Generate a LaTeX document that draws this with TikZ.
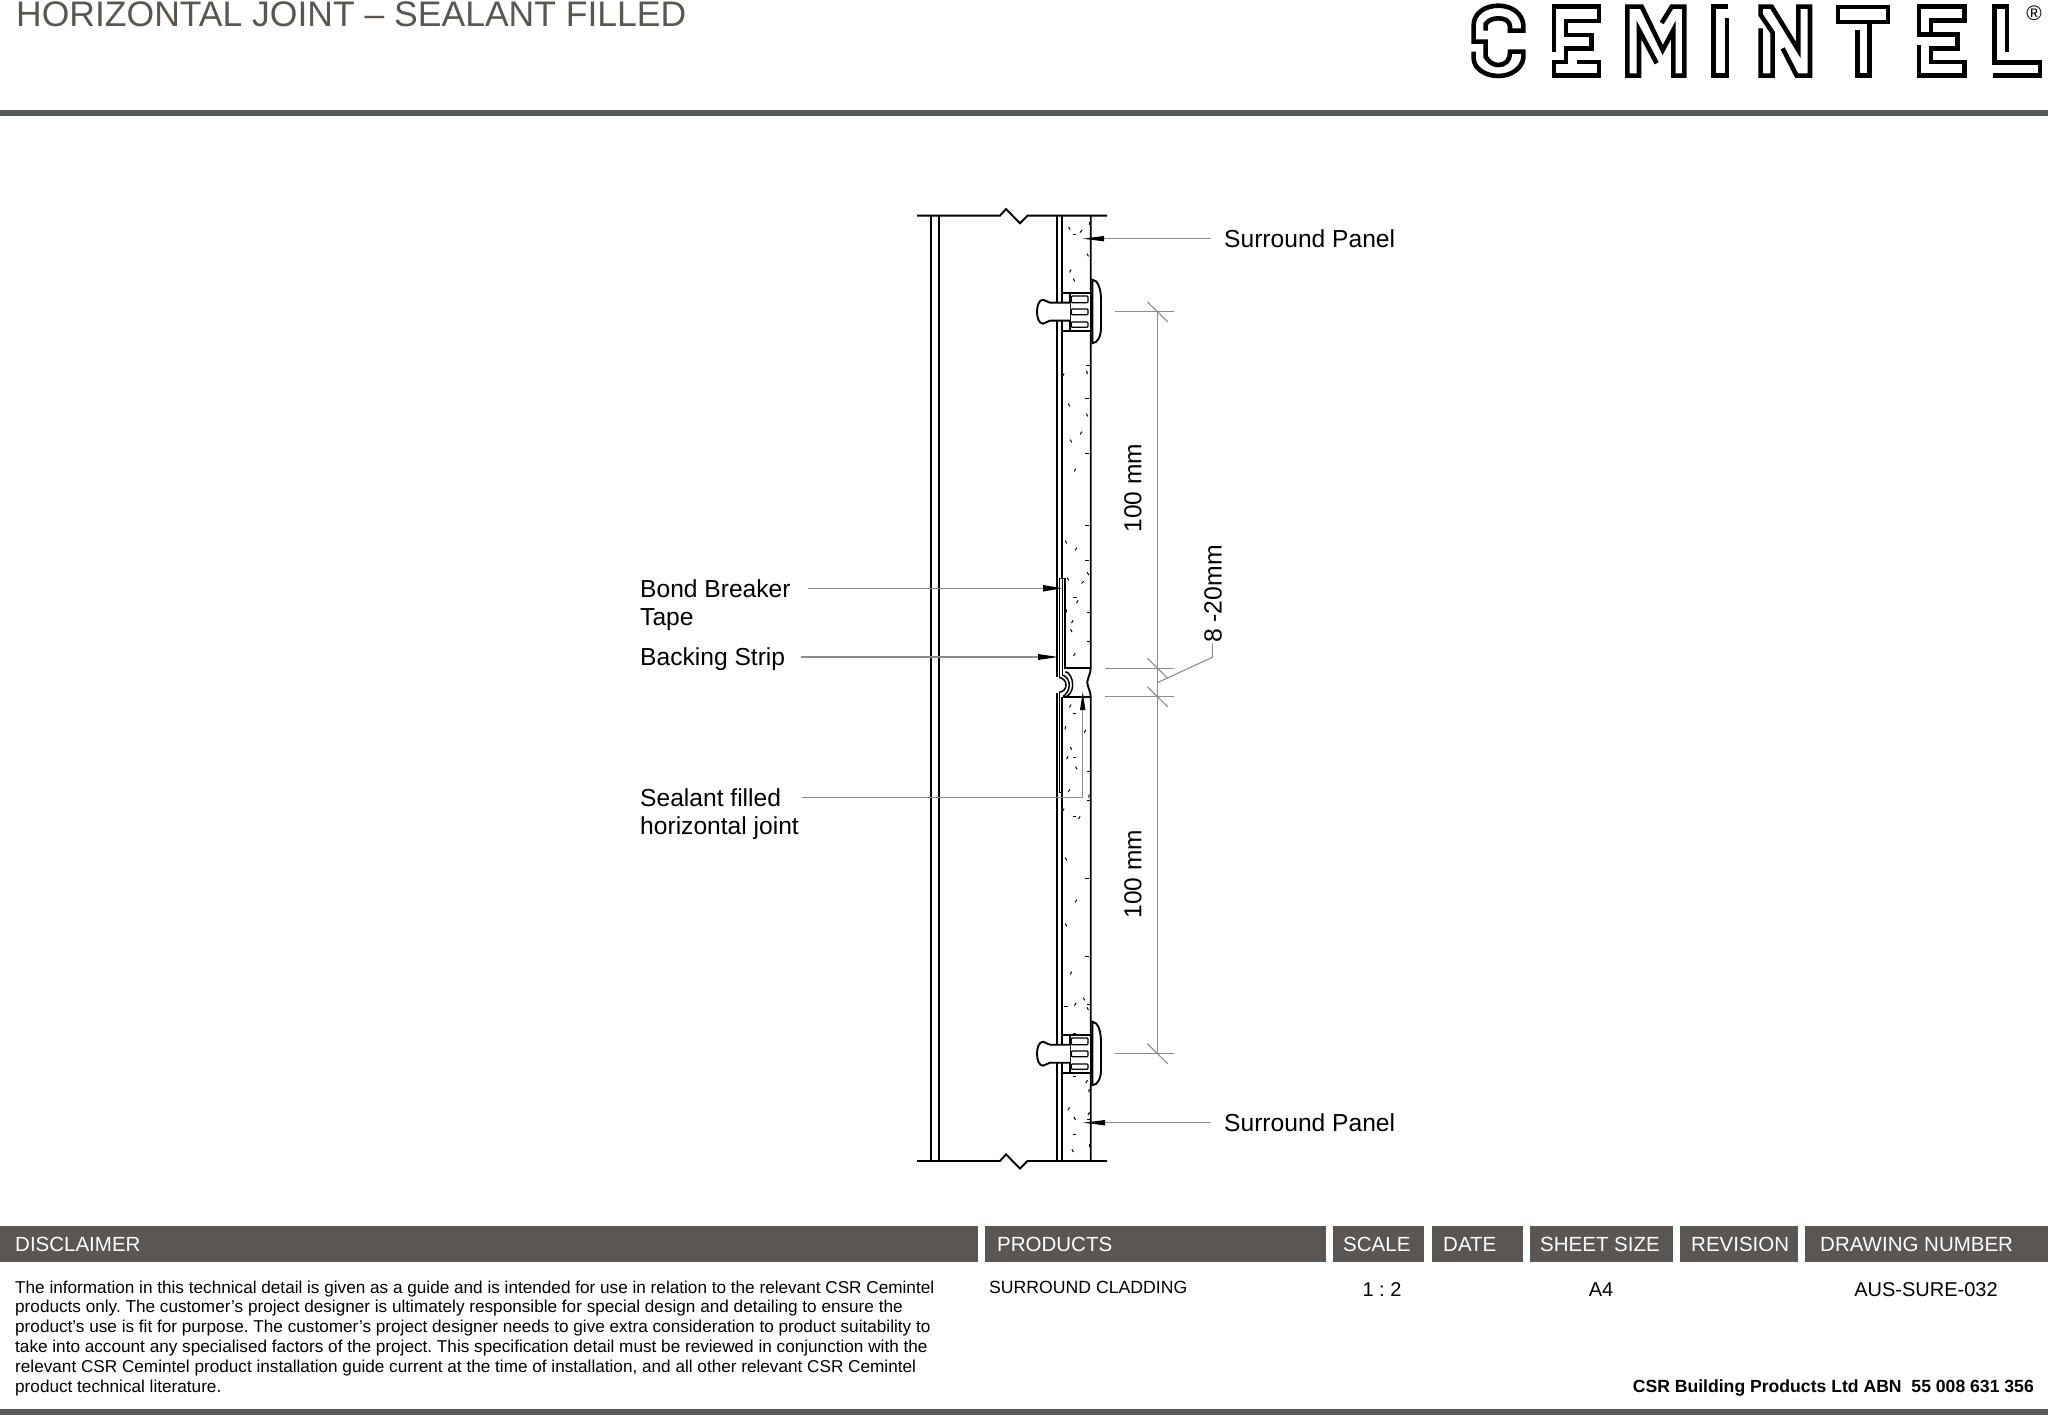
\documentclass[tikz,border=0pt]{standalone}
\usepackage{fontspec}
\setmainfont{Liberation Sans}
\frenchspacing
\usetikzlibrary{arrows.meta}
\definecolor{band}{HTML}{595654}
\definecolor{rulegray}{HTML}{58595B}
\definecolor{titlegray}{HTML}{595654}
\definecolor{dimgray}{HTML}{8C8C8C}
\newcommand{\fs}[1]{\fontsize{#1}{#1}\selectfont}
\tikzset{
  x=1pt,y=-1pt,
  obj/.style={draw=black,line width=1.9pt,line join=miter},
  logoline/.style={draw=black,line width=4.6pt,line join=miter,line cap=butt},
  dim/.style={draw=dimgray,line width=1.1pt},
  lead/.style={draw=dimgray,line width=1.2pt},
  head/.style={fill=black,draw=none},
  hband/.style={fill=band,draw=none},
  htext/.style={text=white,anchor=base west,inner sep=0pt,font=\fs{20.5}},
  lab/.style={anchor=base west,inner sep=0pt,font=\fs{24.6},text=black},
  body/.style={anchor=base west,inner sep=0pt,font=\fs{17.17},text=black},
  cell/.style={anchor=base,inner sep=0pt,font=\fs{20},text=black},
  speck/.style={draw=black,line width=1pt},
}
% fastener, centred on (0,0)
\newcommand{\fastener}[1]{%
  \begin{scope}[shift={(0,#1)}]
    \draw[obj,fill=white] (1062.3,-19) rectangle (1090.7,19);
    \draw[obj] (1070,-19) -- (1070,19);
    \draw[obj,line width=1.3pt,fill=white,rounded corners=1pt] (1071.3,-15.7) rectangle (1088,-9);
    \draw[obj,line width=1.3pt,fill=white,rounded corners=1pt] (1071.3,-2.7) rectangle (1088,3);
    \draw[obj,line width=1.3pt,fill=white,rounded corners=1pt] (1071.3,10.3) rectangle (1088,15.6);
    \draw[obj,fill=white] (1070,-9) -- (1050,-9) .. controls (1047,-9) and (1046,-12) .. (1043,-12)
      .. controls (1039,-12) and (1037,-6) .. (1037,0)
      .. controls (1037,6) and (1039,12) .. (1043,12)
      .. controls (1046,12) and (1047,9) .. (1050,9) -- (1070,9);
    \draw[obj,fill=white] (1092.3,-32) .. controls (1098,-32) and (1101,-22) .. (1101,-12)
      -- (1101,16) .. controls (1101,24) and (1098,31.5) .. (1092.3,31.5) -- cycle;
  \end{scope}
}
\begin{document}
\begin{tikzpicture}
\useasboundingbox (0,0) rectangle (2048,1415);
\fill[white] (0,0) rectangle (2048,1415);

% header
\node[anchor=base west,inner sep=0pt,text=titlegray,font=\fs{35.5}] (title) at (16,26.7) {HORIZONTAL JOINT – SEALANT FILLED};
\fill[rulegray] (0,110) rectangle (2048,116);

% logo
\begin{scope}[shift={(1465,0)},x=0.3333pt,y=-0.3333pt]
  \draw[logoline] (62,92) -- (62,72) .. controls (70,60) and (85,55) .. (100,55) .. controls (118,55) and (135,62) .. (135,80) -- (135,92) -- (175,92) -- (175,75) .. controls (172,40) and (140,17) .. (100,17) .. controls (60,17) and (26,40) .. (26,75) -- (26,125) -- (62,125) -- (62,170) .. controls (70,186) and (85,195) .. (100,195) .. controls (118,195) and (135,185) .. (135,155) -- (175,155) -- (175,175) .. controls (170,205) and (140,228) .. (100,228) .. controls (60,228) and (26,205) .. (26,175) -- (26,155);
  \draw[logoline] (267,157) -- (267,20) -- (402,20) -- (402,63) -- (303,63) -- (303,105) -- (380,105) -- (380,145) -- (303,145) -- (303,186) -- (267,186) -- (267,227) -- (402,227) -- (402,186) -- (335,186);
\end{scope}
\begin{scope}[x=1pt,y=-1pt]
  \draw[logoline] (1656.7,63.3) -- (1639,30) -- (1639,75.7) -- (1627.3,75.7) -- (1627.3,6.7) -- (1641.7,6.7) -- (1662.7,50) -- (1673.3,30) -- (1673.3,75.7) -- (1684.3,75.7) -- (1684.3,6.7) -- (1671.7,6.7) -- (1661.7,23);
  \draw[logoline] (1727,18.3) -- (1727,75.7) -- (1713.3,75.7) -- (1713.3,6.7) -- (1728,6.7);
\end{scope}
\begin{scope}[shift={(1650,0)},x=0.3333pt,y=-0.3333pt]
  \draw[logoline] (332,85) -- (332,227) -- (368,227) -- (368,98) -- (332,45) -- (332,20) -- (365,20) -- (445,150) -- (445,20) -- (480,20) -- (480,227) -- (440,227) -- (398,145);
\end{scope}
\draw[logoline] (1838,7) -- (1888,7) -- (1888,22) -- (1838,22) -- cycle;
\draw[logoline] (1869.3,22) -- (1869.3,75.7) -- (1857.3,75.7) -- (1857.3,30);
\begin{scope}[shift={(1850,0)},x=0.3333pt,y=-0.3333pt]
  \draw[logoline] (207,135) -- (207,227) -- (343,227) -- (343,186) -- (243,186) -- (243,145) -- (322,145) -- (322,103) -- (207,103) -- (207,20) -- (343,20) -- (343,62) -- (243,62) -- (243,103);
  \draw[logoline] (471,157) -- (471,20) -- (433,20) -- (433,187) -- (570,187) -- (570,227) -- (430,227);
\end{scope}
\node[anchor=center,inner sep=0pt,font=\fs{21}] (reg) at (2034,13) {®};

% left wall
\draw[obj] (917,215.7) -- (1000,215.7) -- (1006,209) -- (1020,223.3) -- (1027.5,215.7) -- (1107,215.7);
\draw[obj] (917,1161) -- (1000,1161) -- (1006,1154.3) -- (1020,1168.6) -- (1027.5,1161) -- (1107,1161);
\draw[obj] (931,215.7) -- (931,1161);
\draw[obj] (939,215.7) -- (939,1161);

% panel verticals
\draw[obj] (1056.7,215.7) -- (1056.7,677);
\draw[obj] (1056.7,692.5) -- (1056.7,1161);
\draw[obj] (1062.3,215.7) -- (1062.3,578.3);
\draw[obj] (1062.3,696.7) -- (1062.3,1161);
\draw[obj] (1090.7,215.7) -- (1090.7,668.3) .. controls (1090.7,674) and (1087.3,678) .. (1087.3,682.5) .. controls (1087.3,687) and (1090.7,691) .. (1090.7,696.7) -- (1090.7,1161);
% top panel, lower end and tape
\draw[obj] (1065.3,578.3) -- (1065.3,668.3) -- (1090.7,668.3);
\draw[obj] (1063.3,696.7) -- (1090.7,696.7);
\draw[obj,line width=1pt] (1059,677.3) -- (1059,578.3) -- (1065.3,578.3);
\draw[obj,line width=1pt] (1062.3,578.3) -- (1062.3,675);
\draw[obj,line width=1pt] (1059,692.3) -- (1059,792.3) -- (1062.3,792.3);
% folded strip at the joint
\draw[obj,line width=1.5pt] (1059,677.3) .. controls (1063,678) and (1066,681) .. (1066,685) .. controls (1066,689) and (1063,692) .. (1059,692.3);
\draw[obj,line width=1.5pt] (1062.3,675) .. controls (1066,676) and (1069.3,680) .. (1069.3,685) .. controls (1069.3,690) and (1066,695) .. (1063.3,696);
\draw[obj,line width=1.5pt] (1065.3,671.7) .. controls (1069,672) and (1072.7,678) .. (1072.7,685) .. controls (1072.7,691) and (1069,696) .. (1066,696.7);

% fasteners
\fastener{311.7}
\fastener{1053.7}

% concrete speckles
\foreach \px/\py/\pa in {1069.3/228.3/60,1074.7/235/0,1081/231.3/-50,1089/223.3/90,1087.7/255/60,1070.3/271/-60,1074/280/60,1088/365.7/0,1087/372.3/70,1063.3/375/-60,
 1069/405/60,1087/398/0,1081/433/-60,1071/441/60,1087/453/0,1075/470/-60,1087/415/60,1087/525/0,1066/542/60,1076/549/-60,1087/560/0,
 1068/579/60,1082.7/582.3/-45,1088/573.7/60,1075/597.7/0,1077.3/601.7/-60,1066.3/611/-80,1088.7/612.3/0,1072.3/621.7/-60,1071.3/630.7/60,1088.7/641.7/0,1074.3/654.7/-60,
 1070.3/706/-60,1074.3/713.7/0,1065.3/727.7/-80,1085/731.3/-60,1071/748.3/60,1067.3/757.7/-60,1074.7/757.7/0,1076.3/768/60,1088.7/771.7/0,1069/790.7/-60,1089/796/-80,1089/800.7/0,1063.3/810/-60,1074.7/816/0,1079.3/817.7/-60,
 1066/859/60,1087/878/0,1076/901/-60,1066/925/60,1087/956/0,1071/973/-60,1084/999/60,1066/1006/0,
 1075.3/1004.3/-60,1088.7/1004/0,1087.7/1008.7/60,1074.7/1033/0,1074.7/1076/0,1086.7/1081.7/-60,1089/1090.7/-80,1068.7/1108.7/-60,1074.7/1118.3/60,1088.7/1113.7/-60,1088.7/1119/0,1074.3/1134.3/0,1072.7/1150.7/60,1089.7/1145.7/90}
  {\draw[speck] (\px,\py) ++(\pa:1.6) -- ++(\pa+180:3.2);}

% leaders
\node[lab] (sp1) at (1224,248) {Surround Panel};
\node[lab] (sp2) at (1224,1131) {Surround Panel};
\coordinate (sp1e) at (1211,238.7);
\coordinate (sp1a) at (1104,238.7);
\coordinate (sp1t) at (1083,238.7);
\draw[lead] (sp1e) -- (sp1a);
\fill[head] (sp1t) -- (1104,236) -- (1104,241.4) -- cycle;
\coordinate (sp2e) at (1211,1122.7);
\coordinate (sp2a) at (1105,1122.7);
\draw[lead] (sp2e) -- (sp2a);
\fill[head] (1083,1122.7) -- (1105,1120) -- (1105,1125.4) -- cycle;

\node[lab] (bb1) at (640,597) {Bond Breaker};
\node[lab] (bb2) at (640,625) {Tape};
\node[lab] (bs) at (640,665) {Backing Strip};
\node[lab] (se1) at (640,806) {Sealant filled};
\node[lab] (se2) at (640,834) {horizontal joint};
\coordinate (bbe) at (808,588.3);
\draw[lead] (bbe) -- (1043,588.3);
\fill[head] (1062,588.3) -- (1043,585) -- (1043,591.6) -- cycle;
\coordinate (bse) at (801,657);
\draw[lead] (bse) -- (1038,657);
\fill[head] (1058,657) -- (1038,654) -- (1038,660) -- cycle;
\coordinate (see) at (802,797.3);
\draw[lead] (see) -- (1082.7,797.3) -- (1082.7,710);
\fill[head] (1082.7,692) -- (1080,710) -- (1085.4,710) -- cycle;

% dimensions
\draw[dim] (1157.3,311.7) -- (1157.3,1053.7);
\draw[dim] (1115,311.7) -- (1174,311.7);
\draw[dim] (1105,668.3) -- (1174,668.3);
\draw[dim] (1105,696.7) -- (1174,696.7);
\draw[dim] (1115,1053.7) -- (1174,1053.7);
\foreach \ty in {311.7,668.3,696.7,1053.7}
  {\draw[dim] (1147.3,\ty-10) -- (1167.7,\ty+10);}
\draw[dim] (1157.3,682.7) -- (1212.3,657.3) -- (1212.3,643.3);
\node[inner sep=0pt,font=\fs{24.5},rotate=90,anchor=center] (d1) at (1133,488) {100 mm};
\node[inner sep=0pt,font=\fs{24.5},rotate=90,anchor=center] (d2) at (1133,874) {100 mm};
\node[inner sep=0pt,font=\fs{24.8},rotate=90,anchor=center] (d3) at (1213,594) {8 -20mm};

% title block
\fill[hband] (0,1226) rectangle (978,1262);
\fill[hband] (985,1226) rectangle (1326,1262);
\fill[hband] (1333,1226) rectangle (1424,1262);
\fill[hband] (1432,1226) rectangle (1523,1262);
\fill[hband] (1530,1226) rectangle (1673,1262);
\fill[hband] (1680,1226) rectangle (1798,1262);
\fill[hband] (1805,1226) rectangle (2048,1262);
\node[htext] (h1) at (15,1251) {DISCLAIMER};
\node[htext] (h2) at (997,1251) {PRODUCTS};
\node[htext] (h3) at (1343,1251) {SCALE};
\node[htext] (h4) at (1443,1251) {DATE};
\node[htext] (h5) at (1540,1251) {SHEET SIZE};
\node[htext] (h6) at (1691,1251) {REVISION};
\node[htext] (h7) at (1820,1251) {DRAWING NUMBER};

\node[body] (l1) at (15,1293) {The information in this technical detail is given as a guide and is intended for use in relation to the relevant CSR Cemintel};
\node[body] (l2) at (15,1312.8) {products only. The customer’s project designer is ultimately responsible for special design and detailing to ensure the};
\node[body] (l3) at (15,1332.6) {product’s use is fit for purpose. The customer’s project designer needs to give extra consideration to product suitability to};
\node[body] (l4) at (15,1352.4) {take into account any specialised factors of the project. This specification detail must be reviewed in conjunction with the};
\node[body] (l5) at (15,1372.2) {relevant CSR Cemintel product installation guide current at the time of installation, and all other relevant CSR Cemintel};
\node[body] (l6) at (15,1392) {product technical literature.};

\node[body,font=\fs{17.65}] (prod) at (989,1293) {SURROUND CLADDING};
\node[cell] (scale) at (1382,1296) {1 : 2};
\node[cell] (size) at (1601,1296) {A4};
\node[cell] (num) at (1926,1296) {AUS-SURE-032};
\node[anchor=base east,inner sep=0pt,font=\fs{17.6}\bfseries] (csr) at (2034,1392) {CSR Building Products Ltd ABN\ \ 55 008 631 356};
\fill[rulegray] (0,1409) rectangle (2048,1415);
\end{tikzpicture}
\end{document}
